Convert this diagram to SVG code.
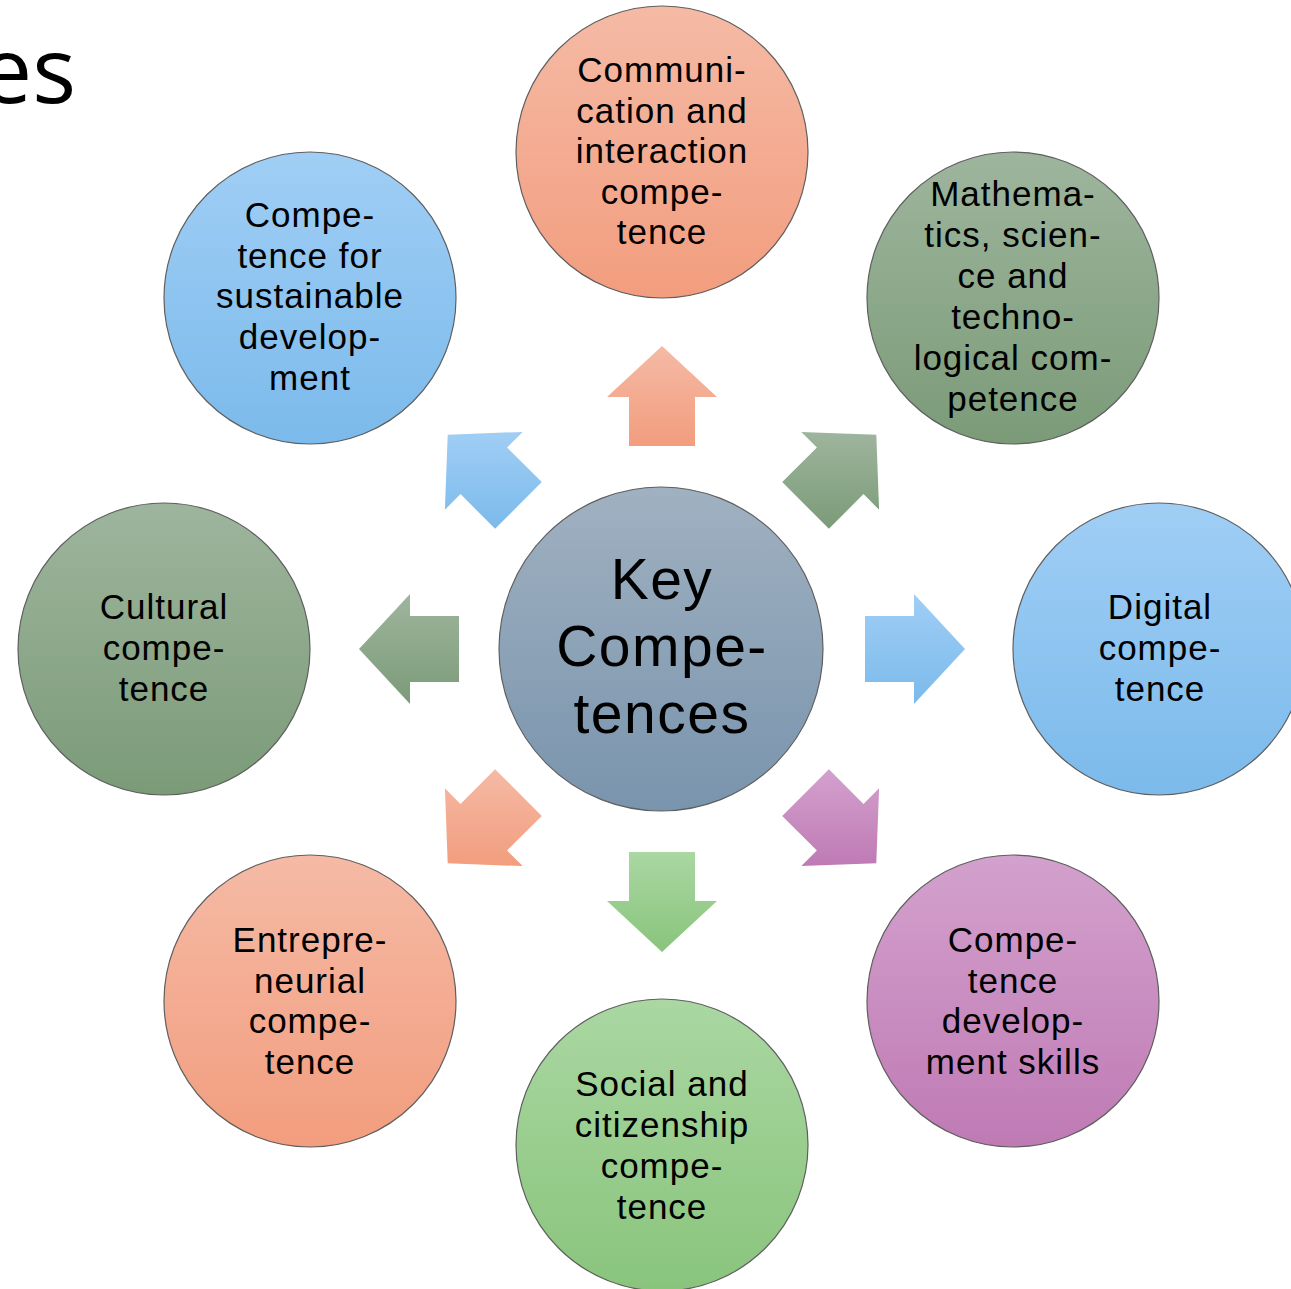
<svg xmlns="http://www.w3.org/2000/svg" width="1291" height="1289" viewBox="0 0 1291 1289">
<defs>
<linearGradient id="gSalmon" x1="0" y1="0" x2="0" y2="1"><stop offset="0" stop-color="#F5BAA5"/><stop offset="1" stop-color="#F29D7E"/></linearGradient>
<linearGradient id="gBlue" x1="0" y1="0" x2="0" y2="1"><stop offset="0" stop-color="#A0CEF5"/><stop offset="1" stop-color="#7BBAEB"/></linearGradient>
<linearGradient id="gOlive" x1="0" y1="0" x2="0" y2="1"><stop offset="0" stop-color="#9EB59D"/><stop offset="1" stop-color="#7B9B78"/></linearGradient>
<linearGradient id="gPurple" x1="0" y1="0" x2="0" y2="1"><stop offset="0" stop-color="#D3A1CD"/><stop offset="1" stop-color="#BF7AB4"/></linearGradient>
<linearGradient id="gGreen" x1="0" y1="0" x2="0" y2="1"><stop offset="0" stop-color="#AAD7A2"/><stop offset="1" stop-color="#89C47C"/></linearGradient>
<linearGradient id="gCenter" x1="0" y1="0" x2="0" y2="1"><stop offset="0" stop-color="#A0B1C1"/><stop offset="1" stop-color="#7994AD"/></linearGradient>
</defs>
<style>
.node circle{stroke:#5f5f5f;stroke-width:1.2}
.lbl{font-family:"Liberation Sans",Arial,sans-serif;font-size:35px;letter-spacing:1px;fill:#000;text-anchor:middle}
.big{font-family:"Liberation Sans",Arial,sans-serif;font-size:57px;letter-spacing:1.5px;fill:#000;text-anchor:middle}
.arr{stroke:none}
</style>
<rect width="1291" height="1289" fill="#FFFFFF"/>
<text x="76" y="103" font-family="'Open Sans','Liberation Sans',sans-serif" font-size="92" text-anchor="end" fill="#000">es</text>

<g id="connectors">
<polygon class="arr" fill="url(#gSalmon)" points="629,446 695,446 695,397 717,397 662,346 607,397 629,397"/>
<polygon class="arr" fill="url(#gOlive)" points="782.2,482.1 828.9,528.8 863.5,494.1 879.1,509.7 876.3,434.7 801.3,431.9 816.9,447.5"/>
<polygon class="arr" fill="url(#gBlue)" points="865,616 865,682 914,682 914,704 965,649 914,594 914,616"/>
<polygon class="arr" fill="url(#gPurple)" points="828.9,769.2 782.2,815.9 816.9,850.5 801.3,866.1 876.3,863.3 879.1,788.3 863.5,803.9"/>
<polygon class="arr" fill="url(#gGreen)" points="695,852 629,852 629,901 607,901 662,952 717,901 695,901"/>
<polygon class="arr" fill="url(#gSalmon)" points="541.8,815.9 495.1,769.2 460.5,803.9 444.9,788.3 447.7,863.3 522.7,866.1 507.1,850.5"/>
<polygon class="arr" fill="url(#gOlive)" points="459,682 459,616 410,616 410,594 359,649 410,704 410,682"/>
<polygon class="arr" fill="url(#gBlue)" points="495.1,528.8 541.8,482.1 507.1,447.5 522.7,431.9 447.7,434.7 444.9,509.7 460.5,494.1"/>
</g>

<g id="node-center" class="node">
<circle cx="661" cy="649" r="162" fill="url(#gCenter)"/>
<text class="big" x="662" y="599">Key</text>
<text class="big" x="662" y="666">Compe-</text>
<text class="big" x="662" y="733">tences</text>
</g>

<g id="node-communication" class="node">
<circle cx="662" cy="152" r="146" fill="url(#gSalmon)"/>
<text class="lbl" x="662" y="82">Communi-</text>
<text class="lbl" x="662" y="122.5">cation and</text>
<text class="lbl" x="662" y="163">interaction</text>
<text class="lbl" x="662" y="203.5">compe-</text>
<text class="lbl" x="662" y="244">tence</text>
</g>

<g id="node-mathematics" class="node">
<circle cx="1013" cy="298" r="146" fill="url(#gOlive)"/>
<text class="lbl" x="1013" y="206">Mathema-</text>
<text class="lbl" x="1013" y="247">tics, scien-</text>
<text class="lbl" x="1013" y="288">ce and</text>
<text class="lbl" x="1013" y="329">techno-</text>
<text class="lbl" x="1013" y="370">logical com-</text>
<text class="lbl" x="1013" y="411">petence</text>
</g>

<g id="node-digital" class="node">
<circle cx="1159" cy="649" r="146" fill="url(#gBlue)"/>
<text class="lbl" x="1160" y="619">Digital</text>
<text class="lbl" x="1160" y="660">compe-</text>
<text class="lbl" x="1160" y="701">tence</text>
</g>

<g id="node-development" class="node">
<circle cx="1013" cy="1001" r="146" fill="url(#gPurple)"/>
<text class="lbl" x="1013" y="952">Compe-</text>
<text class="lbl" x="1013" y="992.5">tence</text>
<text class="lbl" x="1013" y="1033">develop-</text>
<text class="lbl" x="1013" y="1074">ment skills</text>
</g>

<g id="node-social" class="node">
<circle cx="662" cy="1145" r="146" fill="url(#gGreen)"/>
<text class="lbl" x="662" y="1096">Social and</text>
<text class="lbl" x="662" y="1137">citizenship</text>
<text class="lbl" x="662" y="1178">compe-</text>
<text class="lbl" x="662" y="1219">tence</text>
</g>

<g id="node-entrepreneurial" class="node">
<circle cx="310" cy="1001" r="146" fill="url(#gSalmon)"/>
<text class="lbl" x="310" y="952">Entrepre-</text>
<text class="lbl" x="310" y="992.5">neurial</text>
<text class="lbl" x="310" y="1033">compe-</text>
<text class="lbl" x="310" y="1074">tence</text>
</g>

<g id="node-cultural" class="node">
<circle cx="164" cy="649" r="146" fill="url(#gOlive)"/>
<text class="lbl" x="164" y="619">Cultural</text>
<text class="lbl" x="164" y="660">compe-</text>
<text class="lbl" x="164" y="701">tence</text>
</g>

<g id="node-sustainable" class="node">
<circle cx="310" cy="298" r="146" fill="url(#gBlue)"/>
<text class="lbl" x="310" y="227">Compe-</text>
<text class="lbl" x="310" y="267.5">tence for</text>
<text class="lbl" x="310" y="308">sustainable</text>
<text class="lbl" x="310" y="349">develop-</text>
<text class="lbl" x="310" y="390">ment</text>
</g>
</svg>
